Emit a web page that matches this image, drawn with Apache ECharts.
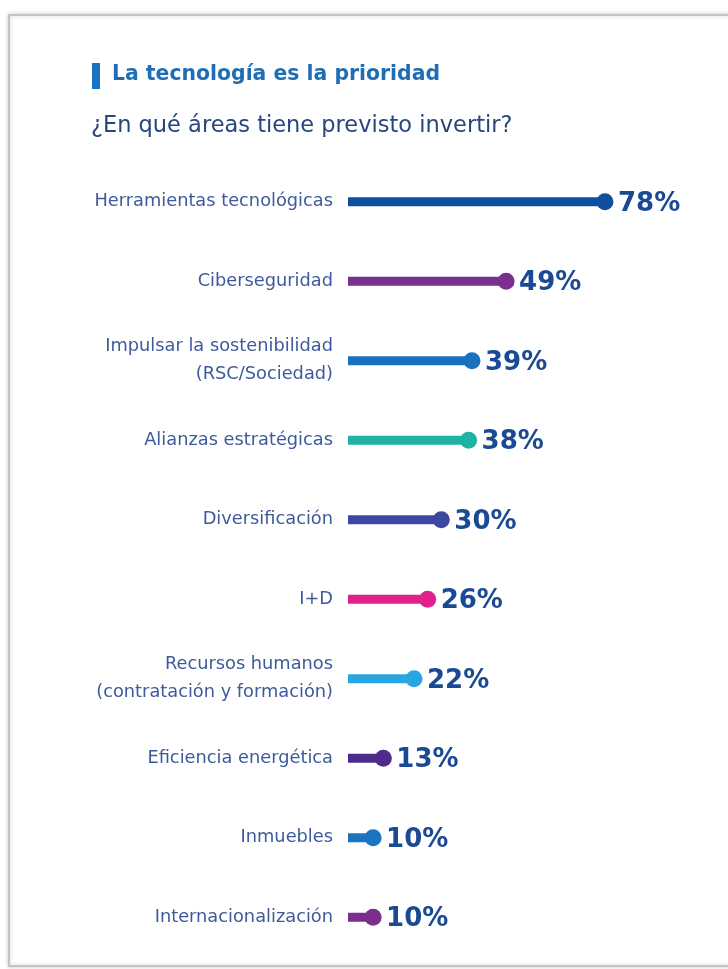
<!DOCTYPE html>
<html>
<head>
<meta charset="utf-8">
<script src="https://cdn.jsdelivr.net/npm/echarts@6/dist/echarts.min.js"></script>
<style>
  html, body { margin: 0; padding: 0; background: #ffffff; }
  #chart { width: 728px; height: 969px; }
</style>
</head>
<body>
<div id="chart"></div>
<script>
// Investment areas, in display order (top to bottom)
var categories = [
  'Herramientas tecnológicas',
  'Ciberseguridad',
  'Impulsar la sostenibilidad\n(RSC/Sociedad)',
  'Alianzas estratégicas',
  'Diversificación',
  'I+D',
  'Recursos humanos\n(contratación y formación)',
  'Eficiencia energética',
  'Inmuebles',
  'Internacionalización'
];

// Share of respondents planning to invest (%)
var values = [78, 49, 39, 38, 30, 26, 22, 13, 10, 10];

// One colour per area
var colors = [
  '#104f9e', '#7a2e8e', '#1a72bf', '#20b2a4', '#3e479f',
  '#e0218b', '#29a6df', '#4d2c8b', '#1b74c2', '#7a2e8e'
];

var chart = echarts.init(document.getElementById('chart'), null, { renderer: 'canvas' });

var seriesData = values.map(function (v, i) {
  return { value: [v, i], itemStyle: { color: colors[i] } };
});

chart.setOption({
  backgroundColor: '#ffffff',
  animation: false,
  title: [
    {
      text: 'La tecnología es la prioridad',
      left: 112, top: 65, padding: 0,
      textStyle: { fontFamily: 'DejaVu Sans', fontWeight: 'bold', fontSize: 20.4, color: '#1f6db5' }
    },
    {
      text: '¿En qué áreas tiene previsto invertir?',
      left: 91, top: 115, padding: 0,
      textStyle: { fontFamily: 'DejaVu Sans', fontWeight: 'normal', fontSize: 22.5, color: '#27467f' }
    }
  ],
  graphic: [
    // page frame
    {
      type: 'rect', silent: true, z: -1,
      shape: { x: 9, y: 15, width: 760, height: 951 },
      style: { fill: '#ffffff', stroke: '#c4c4c4', lineWidth: 2,
               shadowColor: 'rgba(0,0,0,0.18)', shadowBlur: 4 }
    },
    // accent bar next to the heading
    {
      type: 'rect', silent: true,
      shape: { x: 92, y: 63, width: 8, height: 26 },
      style: { fill: '#1a73c0' }
    }
  ],
  grid: { left: 339, right: 48, top: 162, bottom: 12, containLabel: false },
  xAxis: {
    type: 'value', min: 0, max: 100,
    show: false
  },
  yAxis: {
    type: 'category',
    data: categories,
    inverse: true,
    axisLine: { show: false },
    axisTick: { show: false },
    splitLine: { show: false },
    axisLabel: {
      margin: 6,
      fontFamily: 'DejaVu Sans',
      fontSize: 17.8,
      lineHeight: 28,
      color: '#3d5b9c',
      align: 'right'
    }
  },
  series: [{
    type: 'custom',
    data: seriesData,
    encode: { x: 0, y: 1 },
    renderItem: function (params, api) {
      var v = api.value(0);
      var idx = api.value(1);
      var end = api.coord([v, idx]);
      var start = api.coord([0, idx]);
      var color = api.visual('color');
      var x0 = start[0] + 9;
      var thick = 9;
      var r = 8.5;
      return {
        type: 'group',
        children: [
          {
            type: 'rect',
            shape: { x: x0, y: end[1] - thick / 2, width: end[0] - x0, height: thick },
            style: { fill: color }
          },
          {
            type: 'circle',
            shape: { cx: end[0], cy: end[1], r: r },
            style: { fill: color }
          },
          {
            type: 'text',
            style: {
              text: v + '%',
              x: end[0] + 13,
              y: end[1] + 2,
              verticalAlign: 'middle',
              align: 'left',
              fontFamily: 'DejaVu Sans',
              fontWeight: 'bold',
              fontSize: 26,
              fill: '#1b4a94'
            }
          }
        ]
      };
    }
  }]
});
</script>
</body>
</html>
